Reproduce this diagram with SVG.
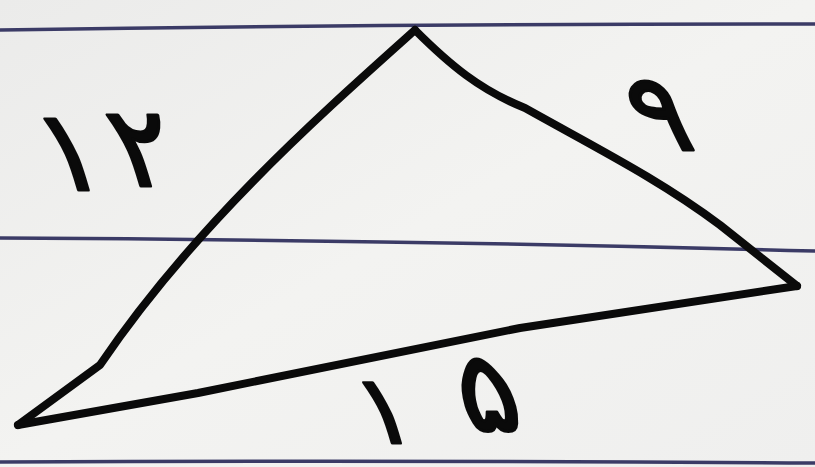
<svg xmlns="http://www.w3.org/2000/svg" width="815" height="467" viewBox="0 0 815 467">
  <style>
    .rule { fill: none; stroke: #3b3b66; stroke-width: 3.5; stroke-linecap: round; }
    .edge { fill: none; stroke: #0a0a0a; stroke-width: 8; stroke-linecap: round; stroke-linejoin: round; }
    .lbl { font-family: "DejaVu Sans", "Noto Sans", sans-serif; font-weight: normal; fill: #0a0a0a; stroke: #0a0a0a; stroke-width: 3; stroke-linejoin: round; }
  </style>
  <defs>
    <linearGradient id="paper" x1="0" y1="0" x2="1" y2="1">
      <stop offset="0" stop-color="#ebebea"/>
      <stop offset="0.5" stop-color="#f3f3f1"/>
      <stop offset="1" stop-color="#efefee"/>
    </linearGradient>
  </defs>
  <rect x="0" y="0" width="815" height="467" fill="url(#paper)"/>
  <g id="rules">
    <path class="rule" d="M0 30 Q400 24 815 24"/>
    <path class="rule" d="M0 238 Q400 240 815 251"/>
    <path class="rule" d="M0 462 Q400 460 815 463"/>
  </g>
  <g id="triangle">
    <path class="edge" d="M415 30 C320 115 195 225 100 365 L18 425"/>
    <path class="edge" d="M415 30 C450 65 480 90 525 108 C600 150 660 180 720 225 L797 286"/>
    <path class="edge" d="M797 286 L520 328 L198 393 L18 425"/>
  </g>
  <g id="label-12">
    <text class="lbl" transform="translate(50 190) skewX(16)" font-size="112">۱<tspan dx="14" dy="-4">۲</tspan></text>
  </g>
  <g id="label-9">
    <text class="lbl" transform="translate(640 150) skewX(16)" font-size="108">۹</text>
  </g>
  <g id="label-15">
    <text class="lbl" transform="translate(368 443) skewX(16)" font-size="95">۱<tspan dx="52" dy="-12" font-size="112">۵</tspan></text>
  </g>
</svg>
